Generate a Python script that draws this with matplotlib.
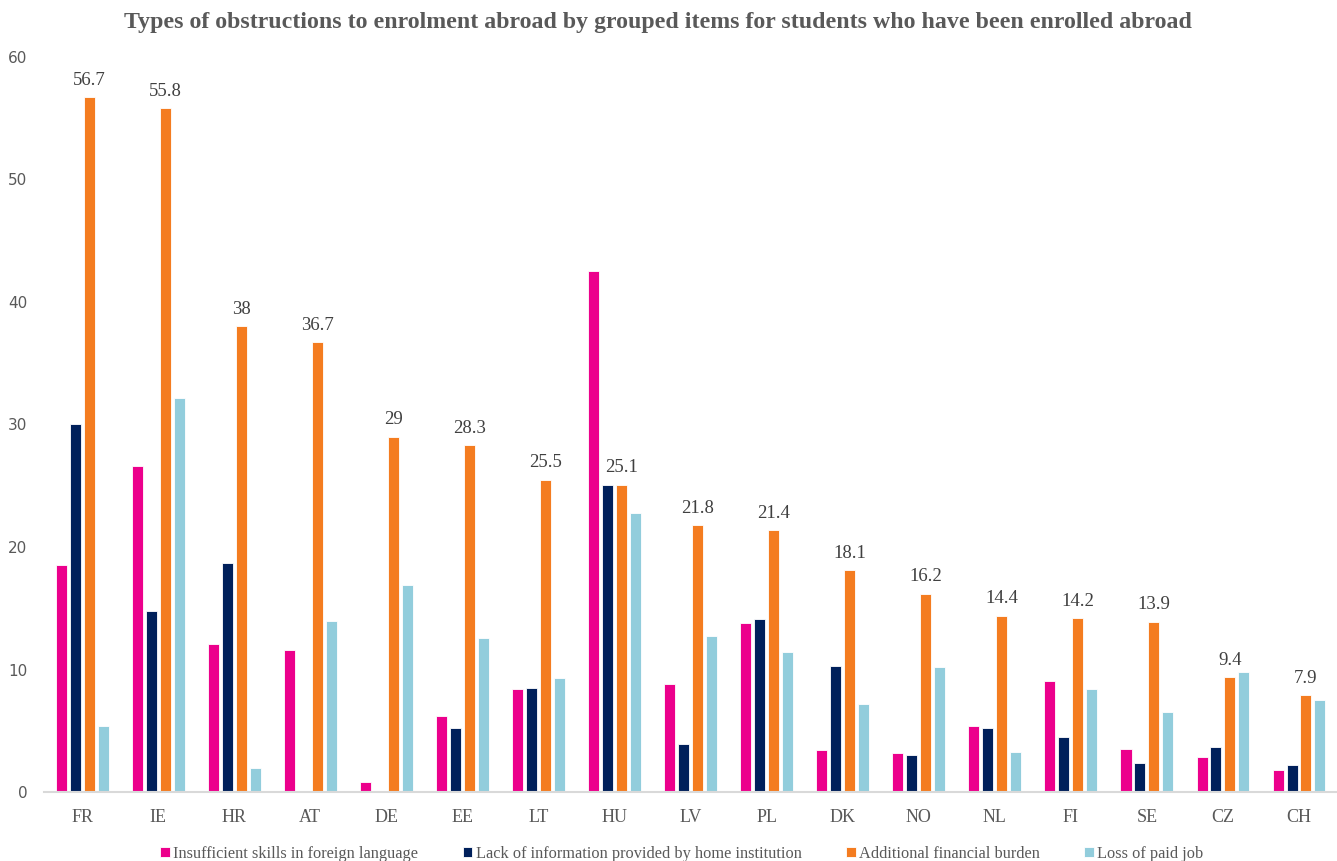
import numpy as np
import matplotlib.pyplot as plt

# Data
countries = ['FR', 'IE', 'HR', 'AT', 'DE', 'EE', 'LT', 'HU', 'LV',
             'PL', 'DK', 'NO', 'NL', 'FI', 'SE', 'CZ', 'CH']
language = [18.5, 26.6, 12.1, 11.6, 0.8, 6.2, 8.4, 42.5, 8.8,
            13.8, 3.4, 3.2, 5.4, 9.1, 3.5, 2.9, 1.8]
information = [30.0, 14.8, 18.7, 0, 0, 5.2, 8.5, 25.1, 3.9,
               14.1, 10.3, 3.0, 5.2, 4.5, 2.4, 3.7, 2.2]
financial = [56.7, 55.8, 38, 36.7, 29, 28.3, 25.5, 25.1, 21.8,
             21.4, 18.1, 16.2, 14.4, 14.2, 13.9, 9.4, 7.9]
paid_job = [5.4, 32.2, 2.0, 14.0, 16.9, 12.6, 9.3, 22.8, 12.7,
            11.4, 7.2, 10.2, 3.3, 8.4, 6.5, 9.8, 7.5]
series_names = ['Insufficient skills in foreign language',
                'Lack of information provided by home institution',
                'Additional financial burden',
                'Loss of paid job']

colors = ['#EC008C', '#00205B', '#F47C20', '#92CDDC']
text_grey = '#595959'
serif = ['Liberation Serif', 'DejaVu Serif']

fig = plt.figure(figsize=(13.37, 8.61), dpi=100)
ax = fig.add_axes([0.033, 0.080, 0.967, 0.854])

x = np.arange(len(countries))
width = 0.145
step = 0.183
for i, (vals, col, name) in enumerate(zip([language, information, financial, paid_job],
                                          colors, series_names)):
    offs = (i - 1.5) * step
    bars = ax.bar(x + offs, vals, width, color=col, label=name,
                  edgecolor='white', linewidth=0.6)
    if i == 2:
        labels = [f'{v:g}' for v in vals]
        ax.bar_label(bars, labels=labels, padding=6, fontsize=13.5,
                     color='#404040', family=serif)

ax.set_xlim(-0.5, len(countries) - 0.5)
ax.set_ylim(0, 60)
ax.set_yticks(range(0, 61, 10))
ax.set_xticks(x)
ax.set_xticklabels(countries, family=serif, fontsize=13, color=text_grey)
ax.tick_params(axis='y', length=0, labelsize=11, labelcolor=text_grey, pad=12)
ax.tick_params(axis='x', length=0, pad=12)
for s in ['top', 'right', 'left']:
    ax.spines[s].set_visible(False)
ax.spines['bottom'].set_color('#D9D9D9')
ax.spines['bottom'].set_linewidth(1.5)

fig.suptitle('Types of obstructions to enrolment abroad by grouped items for students who have been enrolled abroad',
             x=0.492, y=0.986, fontsize=17.2, fontweight='bold', color=text_grey, family=serif)

fig.legend(loc='lower center', bbox_to_anchor=(0.510, -0.018), ncol=4, frameon=False,
           prop={'family': serif, 'size': 11.8}, labelcolor=text_grey,
           handlelength=0.6, handleheight=0.6, handletextpad=0.2, columnspacing=2.7)

fig.savefig('out.png', dpi=100)
